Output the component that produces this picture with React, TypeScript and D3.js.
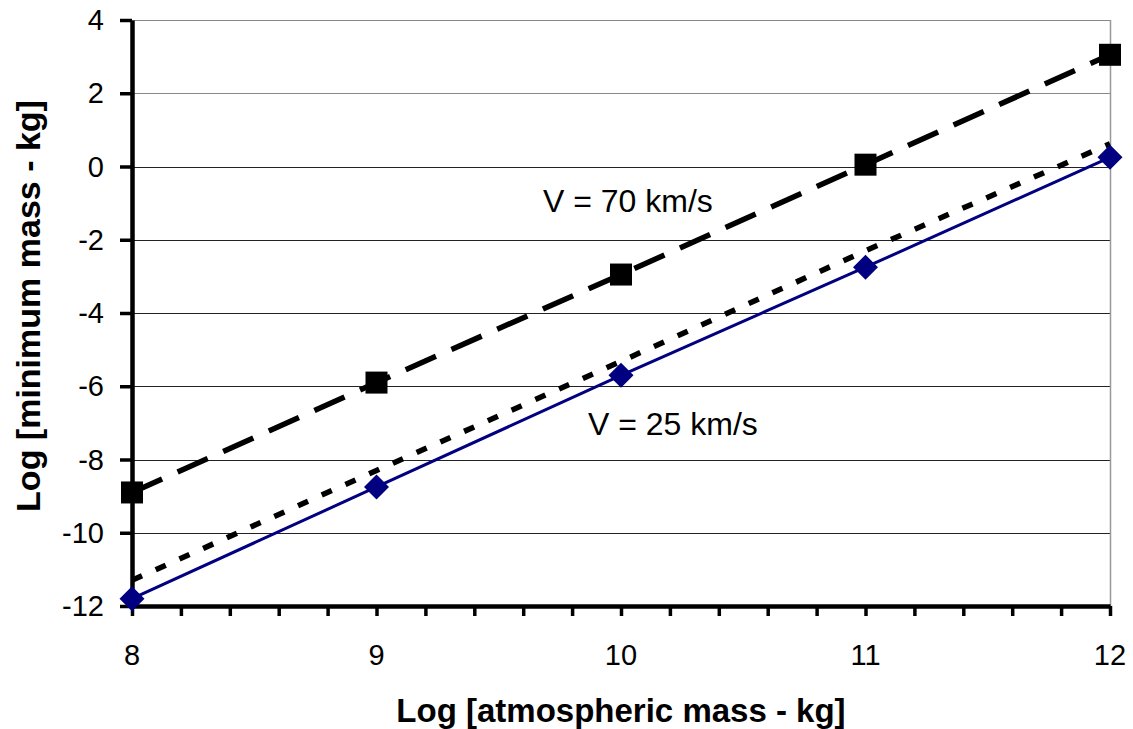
import React, { useEffect, useRef } from "react";
import * as d3 from "d3";

// log atmospheric mass (kg)
const atmMass = [8, 9, 10, 11, 12];
// log minimum mass (kg) for each speed
const v70 = [-8.9, -5.9, -2.95, 0.05, 3.05];
const v25 = [-11.8, -8.75, -5.7, -2.75, 0.25];
const v25dotted = [-11.3, -8.3, -5.32, -2.3, 0.62];

const yTicks = [4, 2, 0, -2, -4, -6, -8, -10, -12];
const xTicks = [8, 9, 10, 11, 12];

const App = () => {
  const svgRef = useRef<SVGSVGElement>(null);

  useEffect(() => {
    const svg = d3.select(svgRef.current);
    svg.selectAll("*").remove();

    const width = 1133;
    const height = 729;
    const margin = { top: 20, right: 23, bottom: 123, left: 132 };
    const font = "'Liberation Sans', Arial, sans-serif";

    const x = d3.scaleLinear().domain([8, 12]).range([margin.left, width - margin.right]);
    const y = d3.scaleLinear().domain([-12, 4]).range([height - margin.bottom, margin.top]);

    // gridlines
    svg.append("g")
      .selectAll("line")
      .data(yTicks.filter(d => d !== -12))
      .enter()
      .append("line")
      .attr("x1", x(8))
      .attr("x2", x(12))
      .attr("y1", d => Math.round(y(d)) + 0.5)
      .attr("y2", d => Math.round(y(d)) + 0.5)
      .attr("stroke", d => (d >= 2 ? "#888" : "#222"))
      .attr("stroke-width", 1);

    // right border of plot area
    svg.append("line")
      .attr("x1", x(12) + 0.5).attr("x2", x(12) + 0.5)
      .attr("y1", y(4)).attr("y2", y(-12))
      .attr("stroke", "#999").attr("stroke-width", 1.5);

    // x axis (major + minor ticks)
    const xAxis = svg.append("g")
      .attr("transform", `translate(0,${y(-12)})`)
      .call(d3.axisBottom(x).tickValues(d3.range(8, 12.01, 0.2)).tickSize(10).tickSizeOuter(0).tickFormat(() => ""));
    xAxis.select(".domain").attr("stroke", "#000").attr("stroke-width", 4.5);
    xAxis.selectAll(".tick line").attr("stroke-width", 3.5);

    svg.append("g")
      .selectAll("text")
      .data(xTicks)
      .enter()
      .append("text")
      .attr("x", d => x(d))
      .attr("y", 665)
      .attr("text-anchor", "middle")
      .attr("font-family", font)
      .attr("font-size", 29)
      .text(d => d);

    // y axis
    const yAxis = svg.append("g")
      .attr("transform", `translate(${x(8)},0)`)
      .call(d3.axisLeft(y).tickValues(yTicks).tickSize(12).tickSizeOuter(0).tickFormat(() => ""));
    yAxis.select(".domain").attr("stroke", "#000").attr("stroke-width", 4.5);
    yAxis.selectAll(".tick line").attr("stroke-width", 3.5);

    svg.append("g")
      .selectAll("text")
      .data(yTicks)
      .enter()
      .append("text")
      .attr("x", 104)
      .attr("y", d => y(d) + 10)
      .attr("text-anchor", "end")
      .attr("font-family", font)
      .attr("font-size", 29)
      .text(d => d);

    // axis titles
    svg.append("text")
      .attr("x", (x(8) + x(12)) / 2)
      .attr("y", 722)
      .attr("text-anchor", "middle")
      .attr("font-family", font)
      .attr("font-weight", "bold")
      .attr("font-size", 33)
      .text("Log [atmospheric mass - kg]");

    svg.append("text")
      .attr("transform", `translate(40,306) rotate(-90)`)
      .attr("text-anchor", "middle")
      .attr("font-family", font)
      .attr("font-weight", "bold")
      .attr("font-size", 34)
      .text("Log [minimum mass - kg]");

    const line = d3.line<number>()
      .x((d, i) => x(atmMass[i]))
      .y(d => y(d));

    // dotted series
    svg.append("path")
      .datum(v25dotted)
      .attr("fill", "none")
      .attr("stroke", "#000")
      .attr("stroke-width", 5.5)
      .attr("stroke-dasharray", "11,15")
      .attr("d", line);

    // V = 25 km/s
    svg.append("path")
      .datum(v25)
      .attr("fill", "none")
      .attr("stroke", "#000080")
      .attr("stroke-width", 3)
      .attr("d", line);

    // V = 70 km/s
    svg.append("path")
      .datum(v70)
      .attr("fill", "none")
      .attr("stroke", "#000")
      .attr("stroke-width", 5.5)
      .attr("stroke-dasharray", "33,17")
      .attr("d", line);

    svg.selectAll(".sq")
      .data(v70)
      .enter()
      .append("rect")
      .attr("x", (d, i) => x(atmMass[i]) - 11)
      .attr("y", d => y(d) - 11)
      .attr("width", 22)
      .attr("height", 22)
      .attr("fill", "#000");

    const r = 12.5;
    svg.selectAll(".dm")
      .data(v25)
      .enter()
      .append("path")
      .attr("d", `M0,${-r}L${r},0L0,${r}L${-r},0Z`)
      .attr("transform", (d, i) => `translate(${x(atmMass[i])},${y(d)})`)
      .attr("fill", "#000080");

    // series labels
    svg.append("text")
      .attr("x", 543)
      .attr("y", 212)
      .attr("font-family", font)
      .attr("font-size", 32)
      .text("V = 70 km/s");

    svg.append("text")
      .attr("x", 588)
      .attr("y", 435)
      .attr("font-family", font)
      .attr("font-size", 32)
      .text("V = 25 km/s");
  }, []);

  return (
    <svg
      ref={svgRef}
      width={1133}
      height={729}
      style={{ position: "absolute", left: 0, top: 0, background: "#fff" }}
    ></svg>
  );
};

export default App;
